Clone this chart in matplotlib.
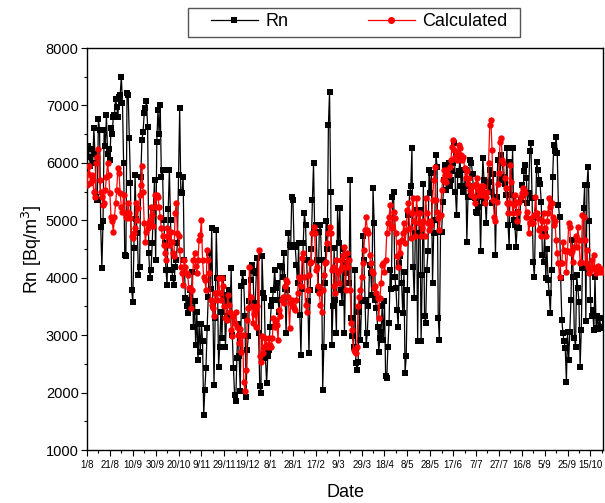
import datetime as dt
import matplotlib
matplotlib.use("Agg")
import matplotlib.pyplot as plt
import matplotlib.dates as mdates
from matplotlib.patches import Rectangle
from matplotlib.ticker import FixedLocator, FuncFormatter, MultipleLocator

plt.rcParams['font.family'] = ['Liberation Sans', 'DejaVu Sans']

start_date = dt.date(2009, 8, 1)
n_days_axis = 451

# Daily measured radon (Rn), Bq/m3
rn_values = [
    5800, 6300, 6100, 5950, 6250, 6000, 6600, 6150, 5400, 5350,
    6770, 6570, 4890, 4170, 4980, 6570, 6300, 6830, 6160, 6250,
    6050, 6600, 6510, 6800, 6830, 7120, 6980, 6800, 7150, 7180,
    7500, 7040, 5990, 4400, 4370, 7210, 7180, 6430, 5650, 3790,
    3585, 4510, 5790, 5030, 4780, 4050, 4190, 5760, 6400, 6540,
    6860, 6950, 7070, 6630, 4430, 3990, 4130, 4600, 5210, 5700,
    4300, 6370, 6920, 6510, 7010, 5760, 5880, 5010, 4600, 4130,
    3880, 5200, 5880, 5010, 4137, 3990, 3876, 4195, 4310, 4600,
    5790, 6950, 5500, 5470, 5760, 4310, 3644, 3500, 3380, 3615,
    3790, 3470, 4100, 3150, 3600, 2830, 3400, 2570, 3200, 2700,
    3200, 2900, 1610, 2050, 2430, 3120, 3670, 4430, 3800, 4860,
    3500, 2140, 3300, 4830, 4000, 2450, 2800, 3400, 2950, 3990,
    3700, 2800, 3330, 3600, 3790, 3330, 4170, 3000, 2430, 1960,
    1850, 2600, 3200, 2630, 2020, 3860, 4080, 3930, 3330, 1930,
    2750, 2980, 3600, 3960, 4220, 4110, 3500, 3560, 4080, 4340,
    3035, 2110, 1990, 4370, 3730, 3644, 2600, 2165, 2630, 2750,
    3150, 3500, 3615, 3790, 4137, 3820, 3905, 3615, 3410, 4200,
    4195, 4020, 4430, 3800, 3035, 3790, 4780, 4570, 4540, 5410,
    5350, 4570, 4540, 4220, 3905, 4600, 3350, 2660, 3800, 4600,
    5120, 4920, 4310, 3600, 2690, 3790, 4500, 5350, 5990, 4800,
    4920, 4310, 3790, 4800, 4920, 4310, 2050, 2800, 3900, 4980,
    4500, 6660, 7240, 5500, 2830, 3500, 4510, 3615, 3035, 5210,
    4600, 5210, 3790, 3560, 4500, 3035, 4080, 4250, 4370, 3900,
    5700, 3300, 2980, 2800, 4137, 2510, 2400, 2540, 3400, 2920,
    3600, 4720, 4310, 3615, 2830, 3035, 3500, 4220, 4080, 3700,
    5560, 4950, 3615, 3470, 3150, 2715, 2950, 3060, 3500, 2920,
    3600, 2280, 2250, 2800, 3210, 4137, 3800, 5410, 5500, 4020,
    3820, 3440, 3150, 4250, 4370, 3905, 3380, 4100, 2340, 2630,
    3790, 5090, 5470, 5590, 6255, 4195, 3644, 4780, 5180, 2890,
    4780, 5180, 2890, 4050, 5640, 3330, 3210, 4137, 4460, 5877,
    5470, 5820, 3905, 4780, 5010, 6138, 5935, 3300, 2920, 4800,
    4800, 5325, 5700, 5964, 5530, 5800, 6000, 5600, 5700, 5850,
    6000, 6340, 5500, 5090, 5790, 5850, 6080, 5590, 5877, 5500,
    5600, 5877, 4630, 5410, 5590, 6050, 5990, 5800, 5410, 5385,
    5150, 5120, 5240, 5500, 4460, 5410, 6080, 5700, 5300, 4950,
    5590, 5670, 5877, 5500, 5300, 5800, 5410, 4400, 5410, 6050,
    6050, 5700, 6138, 5990, 5760, 5640, 5440, 6255, 4920, 4540,
    6020, 5440, 6255, 5010, 4920, 4540, 4890, 5150, 4860, 5350,
    5615, 5440, 5850, 5964, 5730, 5300, 5470, 6200, 6340, 5385,
    4280, 4020, 5060, 6020, 5877, 5700, 5640, 5325, 4400, 4280,
    4780, 3990, 4500, 3960, 3730, 3380, 4137, 5760, 6312, 6200,
    6450, 6168, 5270, 5060, 4000, 3270, 3035, 2890, 2775, 2190,
    3060, 2570, 3060, 3615, 4660, 4020, 2950, 2800, 4050, 3820,
    3580, 2450, 3090, 4170, 5210, 5615, 3240, 5615, 5935, 4980,
    3615, 3330, 3440, 3090, 4020, 3120, 3330, 3100, 3300, 3150, 3120, 3300,
]

# Daily calculated radon, Bq/m3
calc_values = [
    5620, 5800, 5940, 5650, 5790, 5700, 5500, 5400, 5990, 6110,
    6250, 5700, 5500, 5410, 5270, 5300, 5530, 5760, 5990, 5790,
    5470, 5060, 4980, 4800, 5060, 5300, 5530, 5910, 5820, 5470,
    5240, 5150, 5440, 5120, 5060, 5040, 5300, 5120, 5040, 4720,
    4690, 4780, 4860, 5300, 5010, 5210, 5440, 5620, 5940, 5500,
    4950, 4630, 4800, 4860, 4950, 5010, 5240, 5100, 4900, 5440,
    5240, 5440, 5410, 5240, 5060, 4860, 4720, 4570, 4430, 4300,
    4860, 4720, 4570, 4800, 4630, 4430, 4370, 5120, 5300, 4780,
    4720, 4480, 4195, 4080, 3876, 4310, 4195, 4080, 4050, 3820,
    3820, 3470, 3790, 4310, 4430, 4200, 4080, 4310, 4660, 4750,
    5010, 4310, 4020, 3960, 3790, 4480, 4310, 4080, 3615, 3530,
    3470, 3330, 3730, 3730, 3615, 3990, 3730, 3615, 3990, 3850,
    3500, 3300, 3270, 3700, 3530, 3400, 3090, 2980, 3330, 3210,
    3410, 3150, 3000, 2860, 3100, 2700, 3000, 2190, 2020, 2400,
    3270, 3470, 4195, 3670, 3500, 3210, 3360, 3440, 3150, 3500,
    4480, 2630, 2540, 2980, 2690, 2800, 2950, 2830, 2800, 2950,
    2830, 2800, 2950, 3300, 3150, 3270, 3180, 2920, 3440, 3330,
    3615, 3670, 3560, 3850, 3960, 3930, 3670, 3120, 3560, 3615,
    3500, 3470, 3440, 3615, 3730, 4020, 3990, 3850, 4340, 4430,
    4020, 3530, 3410, 3790, 4050, 4250, 4280, 4780, 4890, 4780,
    4137, 4195, 3850, 3730, 3530, 3410, 3790, 4050, 4250, 4280,
    4600, 4780, 4890, 4780, 4137, 4195, 3850, 3730, 4310, 4100,
    3905, 4137, 4310, 4195, 4400, 4540, 3790, 4430, 4195, 4300,
    3790, 3210, 3090, 2750, 2715, 2690, 2800, 3500, 3670, 3790,
    4020, 4250, 4480, 4830, 5060, 4830, 4780, 4400, 4250, 4110,
    4080, 3820, 3850, 3730, 3644, 3300, 3644, 3905, 4220, 4250,
    4100, 4300, 4780, 4950, 5060, 5270, 4860, 4890, 5150, 5040,
    4780, 4370, 4195, 4630, 4430, 4660, 4780, 4950, 4600, 4830,
    5180, 5300, 4860, 4690, 5120, 5385, 4980, 4720, 5385, 5120,
    4950, 5120, 4720, 4860, 4980, 4720, 5385, 5120, 4950, 4830,
    4980, 4920, 5350, 5700, 5935, 5350, 5150, 5040, 4830, 5090,
    5530, 5700, 5877, 5790, 5670, 5877, 5790, 5935, 6050, 6280,
    6400, 6225, 6110, 6050, 6170, 6310, 6255, 6138, 6050, 6110,
    5906, 5730, 5850, 5640, 5730, 5530, 5440, 5590, 5400, 5300,
    5640, 5730, 5530, 5440, 5590, 5440, 5590, 5500, 5300, 5400,
    5500, 6000, 6660, 6750, 6225, 5350, 5060, 4980, 5325, 5640,
    5820, 6370, 6430, 6050, 5990, 5730, 5560, 5300, 5120, 5300,
    5964, 5670, 5120, 5270, 5440, 5325, 4980, 5150, 5325, 5410,
    5470, 5560, 5530, 5470, 5060, 5150, 4780, 4950, 5040, 4950,
    4950, 5090, 5410, 5120, 5040, 4830, 4860, 4720, 4980, 5120,
    4860, 4720, 4980, 5120, 5385, 5240, 5300, 5060, 4920, 4980,
    4660, 4430, 4250, 4020, 4250, 4250, 4630, 4480, 4460, 4100,
    4460, 4950, 4890, 4430, 4460, 4280, 4540, 4720, 4540, 4890,
    4660, 4250, 4280, 5090, 5060, 4660, 4250, 4480, 4195, 4080,
    4137, 4300, 4195, 4400, 4150, 4080, 4137, 4200, 4100, 4137, 4150, 4100,
]

y_ticks = [1000, 2000, 3000, 4000, 5000, 6000, 7000, 8000]


def dates_for(values):
    return [start_date + dt.timedelta(days=i) for i in range(len(values))]


W, H = 605, 503
fig = plt.figure(figsize=(W / 100, H / 100), dpi=100)
ax = fig.add_axes([87 / W, (H - 450) / H, (603 - 87) / W, (450 - 48) / H])

ax.plot(dates_for(rn_values), rn_values, color='black', lw=0.9,
        marker='s', markersize=3.9, markeredgewidth=0, label='Rn', zorder=2)
ax.plot(dates_for(calc_values), calc_values, color='red', lw=0.9,
        marker='o', markersize=4.6, markeredgewidth=0, label='Calculated', zorder=3)

x0 = mdates.date2num(start_date)
ax.set_xlim(x0, x0 + n_days_axis)
ax.set_ylim(1000, 8000)

major_x = [x0 + 20 * k for k in range(23)]
minor_x = [x0 + 10 * k for k in range(46)]
ax.xaxis.set_major_locator(FixedLocator(major_x))
ax.xaxis.set_minor_locator(FixedLocator(minor_x))


def fmt(x, pos):
    d = mdates.num2date(x)
    return f"{d.day}/{d.month}"


ax.xaxis.set_major_formatter(FuncFormatter(fmt))
ax.yaxis.set_major_locator(FixedLocator(y_ticks))
ax.yaxis.set_minor_locator(MultipleLocator(500))

ax.tick_params(axis='both', which='both', direction='out', top=False, right=False)
ax.tick_params(axis='x', which='major', length=4, width=0.8, labelsize=7, pad=3)
ax.tick_params(axis='x', which='minor', length=2.5, width=0.8)
ax.tick_params(axis='y', which='major', length=4, width=0.8, labelsize=10.5, pad=2)
ax.tick_params(axis='y', which='minor', length=2.5, width=0.8)
for s in ax.spines.values():
    s.set_linewidth(1.0)

ax.set_xlabel('Date', fontsize=13, labelpad=10)
ax.set_ylabel('Rn [Bq/m$^3$]', fontsize=13, labelpad=1)

leg = fig.legend(loc='center left', bbox_to_anchor=(211 / W, 1 - 22 / H), ncol=2,
                 frameon=False, fontsize=13, handlelength=2.6, handletextpad=0.4,
                 columnspacing=4.4, borderpad=0, borderaxespad=0, markerscale=1.1)
fig.add_artist(Rectangle((188 / W, 1 - 37 / H), 332 / W, 29 / H,
                         transform=fig.transFigure, fill=False,
                         edgecolor='#555555', lw=1.0))

fig.savefig('out.png', dpi=100)
